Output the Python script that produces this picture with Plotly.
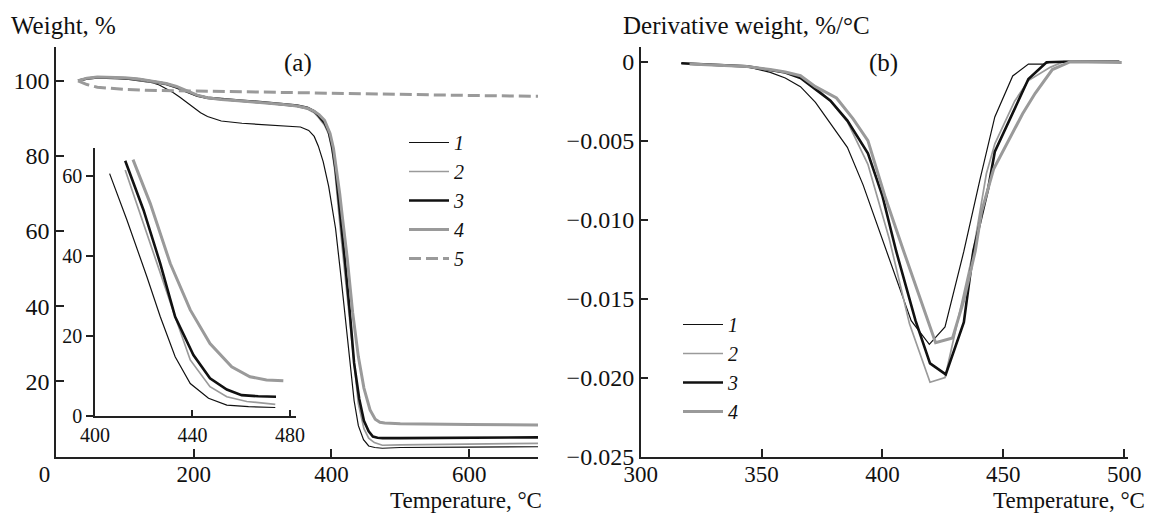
import plotly.graph_objects as go

# ---------------- data: (a) TGA weight, % ----------------
T1 = [32, 45, 60, 80, 100, 120, 140, 150, 160, 170, 180, 190, 200, 210, 220, 240, 270, 300, 330, 355, 367, 375, 381, 388, 396, 401, 406, 413.1, 421.3, 426.8, 432.9, 439.1, 446.6, 454.1, 463, 474, 500, 600, 700]
W1 = [100, 100.6, 100.8, 100.8, 100.5, 100.1, 99.5, 98.9, 98.0, 96.9, 95.6, 94.2, 92.8, 91.5, 90.5, 89.3, 88.7, 88.4, 88.1, 87.7, 86.8, 85.2, 82.6, 78.5, 71.9, 66.5, 60.7, 49.1, 34.9, 24.9, 14.9, 8.2, 4.5, 2.8, 2.4, 2.2, 2.4, 2.5, 2.6]

T2 = [32, 45, 60, 80, 100, 120, 140, 160, 175, 190, 205, 220, 240, 270, 300, 330, 350, 365, 375, 381, 390, 396, 401, 405, 409, 412.4, 419.3, 426.8, 432.9, 439.1, 447.2, 454.1, 462.3, 474, 500, 600, 700]
W2 = [100, 100.5, 100.8, 100.8, 100.6, 100.2, 99.7, 99.0, 98.1, 97.0, 95.9, 95.3, 94.9, 94.5, 94.1, 93.6, 93.2, 92.5, 91.5, 90.3, 88.2, 85.8, 81.5, 76.0, 69.0, 61.6, 49.1, 35.7, 24.9, 14.1, 7.4, 4.9, 3.7, 3.0, 3.1, 3.3, 3.5]

T3 = [32, 45, 60, 80, 100, 120, 140, 160, 175, 190, 205, 220, 240, 270, 300, 330, 350, 365, 375, 381, 390, 396, 401, 406, 409.5, 412.4, 419.9, 426.8, 432.9, 440.4, 447.2, 454.1, 460.2, 467, 474.3, 500, 600, 700]
W3 = [100, 100.6, 100.9, 100.9, 100.7, 100.4, 99.9, 99.2, 98.3, 97.2, 96.1, 95.5, 95.1, 94.7, 94.3, 93.8, 93.4, 92.8, 91.9, 90.8, 88.8, 86.5, 82.5, 76.5, 70.5, 63.9, 51.6, 38.2, 24.9, 15.3, 9.5, 6.7, 5.3, 5.0, 4.9, 4.9, 5.0, 5.1]

T4 = [32, 45, 60, 80, 100, 120, 140, 160, 175, 190, 205, 220, 240, 270, 300, 330, 350, 365, 375, 382, 390, 398, 403, 408, 412, 415.6, 422.7, 430.9, 439.1, 447.2, 456.1, 463.6, 470.4, 477.3, 500, 600, 700]
W4 = [100, 100.7, 101.0, 101.0, 100.8, 100.5, 100.0, 99.3, 98.5, 97.4, 96.2, 95.5, 95.0, 94.6, 94.2, 93.7, 93.3, 92.7, 91.9, 91.0, 89.5, 86.0, 82.0, 76.0, 70.0, 64.2, 53.2, 38.2, 26.6, 18.2, 12.4, 9.9, 9.1, 8.9, 8.7, 8.5, 8.4]

T5 = [32, 45, 60, 80, 100, 130, 160, 200, 300, 400, 500, 600, 700]
W5 = [100, 99.0, 98.3, 97.9, 97.7, 97.5, 97.4, 97.3, 97.0, 96.7, 96.4, 96.1, 95.9]

# inset data window (°C) for curves 1-4
inset_start = [406, 412.4, 412.4, 415.6]
inset_end = [474, 474, 474.3, 477.3]

# ---------------- data: (b) DTG derivative weight, %/°C ----------------
D1_T = [316.8, 330, 344, 353.6, 359.8, 366.1, 372.3, 378, 385.5, 392, 401.8, 411.9, 419.4, 425.9, 433.7, 440.3, 446.5, 453.9, 460.4, 466.6, 470, 480, 498]
D1_V = [-0.00011, -0.00018, -0.00032, -0.00068, -0.00103, -0.00158, -0.00258, -0.0038, -0.00542, -0.0078, -0.0120, -0.0164, -0.0179, -0.0168, -0.0120, -0.0075, -0.0035, -0.0009, -0.00015, -0.00015, 0.0, 0.0, 0.0]

D2_T = [320, 344, 353.6, 359.8, 366.1, 372.3, 378.5, 385.5, 394, 402.8, 411.2, 419.7, 425.9, 429.9, 437.6, 443, 446.5, 454.7, 460.4, 469.4, 475, 498]
D2_V = [-0.00015, -0.0003, -0.00053, -0.00068, -0.00095, -0.0016, -0.0025, -0.0038, -0.0065, -0.0112, -0.0166, -0.0203, -0.0200, -0.0172, -0.0120, -0.0071, -0.0052, -0.0025, -0.0012, -0.00036, 0.0, 0.0]

D3_T = [316.8, 344, 353.6, 359.8, 366.1, 372.3, 378.5, 385.5, 394, 400, 405.7, 413.7, 419.7, 426.2, 433.7, 437.6, 443.8, 446.5, 453.1, 460.4, 467.9, 475, 498]
D3_V = [-0.0001, -0.0003, -0.00053, -0.00068, -0.00103, -0.00173, -0.00247, -0.00373, -0.0058, -0.0085, -0.0120, -0.0164, -0.0191, -0.0198, -0.0165, -0.0120, -0.0080, -0.0057, -0.0035, -0.0011, -0.00004, 0.0, 0.0]

D4_T = [320.2, 344, 353.6, 359.8, 366.1, 372.3, 381, 387.8, 394, 401, 408.8, 415.9, 422, 429, 433.7, 438.4, 441, 446, 453, 458, 463.2, 470.3, 477.8, 499]
D4_V = [-0.00015, -0.0003, -0.0005, -0.00065, -0.00089, -0.00158, -0.0023, -0.0036, -0.0050, -0.0085, -0.0120, -0.0151, -0.0178, -0.0175, -0.0151, -0.0120, -0.0095, -0.0068, -0.0048, -0.0033, -0.0020, -0.0005, 0.0, -0.00005]

labels = ["1", "2", "3", "4", "5"]
x_ticks_a = [0, 200, 400, 600]
y_ticks_a = [20, 40, 60, 80, 100]
x_ticks_in = [400, 440, 480]
y_ticks_in = [0, 20, 40, 60]
x_ticks_b = [300, 350, 400, 450, 500]
y_ticks_b = [0, -0.005, -0.010, -0.015, -0.020, -0.025]

# ---------------- styles ----------------
BLACK = "#111111"
GRAY = "#9a9a9a"
styles = [
    dict(color=BLACK, width=1.2),
    dict(color=GRAY, width=1.7),
    dict(color=BLACK, width=2.6),
    dict(color=GRAY, width=3.0),
    dict(color=GRAY, width=3.0, dash="12px,5px"),
]
FONT = "Liberation Serif, Times New Roman, serif"
W, H = 1149, 514


def px(x):
    return x / W


def py(y):
    return 1 - y / H


fig = go.Figure()

tga = [(T1, W1), (T2, W2), (T3, W3), (T4, W4), (T5, W5)]
for i, (t, w) in enumerate(tga):
    fig.add_trace(go.Scatter(x=t, y=w, mode="lines", line=styles[i],
                             name="<i>%s</i>" % labels[i], legend="legend",
                             xaxis="x", yaxis="y"))

# inset (same data, zoomed window)
for i, (t, w) in enumerate(tga[:4]):
    sel = [(a, b) for a, b in zip(t, w) if inset_start[i] <= a <= inset_end[i]]
    fig.add_trace(go.Scatter(x=[a for a, _ in sel], y=[b for _, b in sel], mode="lines",
                             line=styles[i], showlegend=False,
                             xaxis="x3", yaxis="y3"))

dtg = [(D1_T, D1_V), (D2_T, D2_V), (D3_T, D3_V), (D4_T, D4_V)]
for i, (t, v) in enumerate(dtg):
    fig.add_trace(go.Scatter(x=t, y=v, mode="lines", line=styles[i],
                             name="<i>%s</i>" % labels[i], legend="legend2",
                             xaxis="x2", yaxis="y2"))

axis_common = dict(showgrid=False, zeroline=False, showline=True, linecolor="#222222",
                   linewidth=1.5, tickcolor="#222222", tickwidth=1.5, automargin=False,
                   tickfont=dict(family=FONT, size=24, color="#111111"))
xtick_font = dict(family=FONT, size=23, color="#111111")
inset_font = dict(family=FONT, size=20, color="#111111")

fig.update_layout(
    template="none",
    width=W, height=H, autosize=False,
    margin=dict(l=0, r=0, t=0, b=0, pad=0),
    paper_bgcolor="white", plot_bgcolor="rgba(0,0,0,0)",
    font=dict(family=FONT, color="#111111"),
    xaxis=dict(domain=[px(56), px(538)], range=[0, 700], anchor="y",
               tickvals=x_ticks_a, ticktext=["0\u2003", "200", "400", "600"],
               ticks="inside", ticklen=8, ticklabelstandoff=-4,
               **{**axis_common, "tickfont": xtick_font}),
    yaxis=dict(domain=[py(456.5), py(47)], range=[0, 109], anchor="x",
               tickvals=y_ticks_a, ticktext=[str(v) for v in y_ticks_a],
               ticks="inside", ticklen=8, **axis_common),
    xaxis2=dict(domain=[px(640.7), px(1128)], range=[300, 501.6], anchor="y2",
                tickvals=x_ticks_b, ticktext=[str(v) for v in x_ticks_b],
                ticks="inside", ticklen=8, ticklabelstandoff=-4,
                **{**axis_common, "tickfont": xtick_font}),
    yaxis2=dict(domain=[py(456.5), py(47)], range=[-0.025, 0.00093], anchor="x2",
                tickvals=y_ticks_b,
                ticktext=["0" if v == 0 else "\u2212%.3f" % abs(v) for v in y_ticks_b],
                ticks="inside", ticklen=8, **axis_common),
    xaxis3=dict(domain=[px(95), px(296)], range=[400, 482.5], anchor="y3",
                tickvals=x_ticks_in, ticktext=[str(v) for v in x_ticks_in],
                ticks="inside", ticklen=7,
                **{**axis_common, "tickfont": inset_font}),
    yaxis3=dict(domain=[py(416.3), py(148)], range=[0, 67.1], anchor="x3",
                tickvals=y_ticks_in, ticktext=[str(v) for v in y_ticks_in],
                ticks="outside", ticklen=7,
                **{**axis_common, "tickfont": inset_font}),
    legend=dict(x=px(404), y=py(123), xanchor="left", yanchor="top",
                font=dict(family=FONT, size=20, color="#111111"),
                bgcolor="rgba(0,0,0,0)", tracegroupgap=0, itemwidth=40),
    legend2=dict(x=px(678), y=py(305), xanchor="left", yanchor="top",
                 font=dict(family=FONT, size=20, color="#111111"),
                 bgcolor="rgba(0,0,0,0)", tracegroupgap=0, itemwidth=40),
    showlegend=True,
)

ann_font = dict(family=FONT, size=25, color="#111111")
xt_font = dict(family=FONT, size=23, color="#111111")
annotations = [
    dict(text="Weight, %", x=px(10), y=py(25), xanchor="left", yanchor="middle", font=ann_font),
    dict(text="Derivative weight, %/°C", x=px(622), y=py(25), xanchor="left", yanchor="middle", font=ann_font),
    dict(text="Temperature, °C", x=px(543), y=0, xanchor="right", yanchor="bottom", font=xt_font),
    dict(text="Temperature, °C", x=px(1146), y=0, xanchor="right", yanchor="bottom", font=xt_font),
    dict(text="(a)", x=px(298), y=py(63), xanchor="center", yanchor="middle", font=ann_font),
    dict(text="(b)", x=px(883), y=py(63), xanchor="center", yanchor="middle", font=ann_font),
]
for a in annotations:
    fig.add_annotation(xref="paper", yref="paper", showarrow=False, borderpad=0, **a)

fig.write_html("out.html")
